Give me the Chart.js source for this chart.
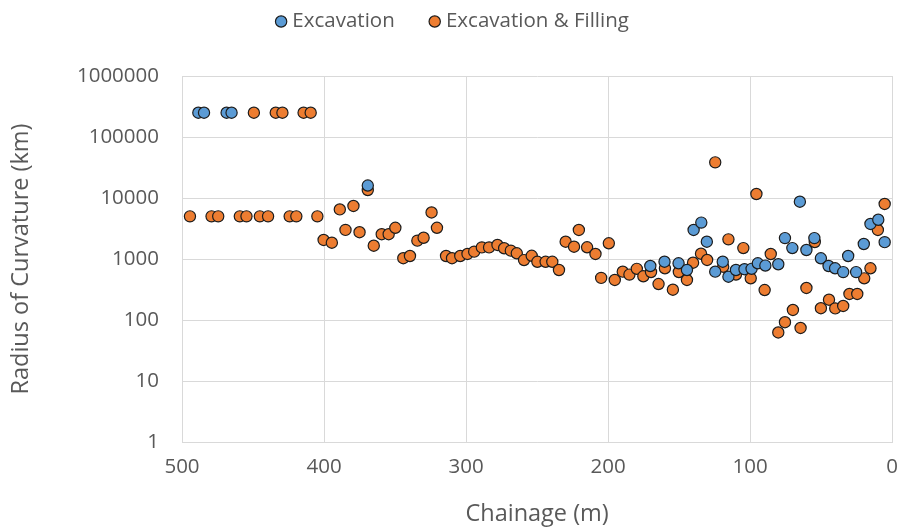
<!DOCTYPE html>
<html><head><meta charset="utf-8">
<script src="https://cdn.jsdelivr.net/npm/chart.js@4"></script>
<style>html,body{margin:0;padding:0;background:#fff;overflow:hidden}#wrap{width:899px;height:529px;position:relative}</style>
</head><body><div id="wrap"><canvas id="c" width="899" height="529"></canvas></div>
<script>
// ---- data ----
const seriesNames = ['Excavation', 'Excavation & Filling'];

const excavationChainage = [488.5, 484.5, 468.6, 465.1, 369.2,
  170.3, 160.3, 150.4, 144.5, 139.8, 134.4, 130.5, 124.6, 119.3, 115.3, 110, 104, 99, 94.6, 89.3,
  80.2, 75.5, 70.3, 65, 60.4, 54.8, 50.2, 44.8, 40.2, 34.5, 31, 25.4, 20, 15.3, 9.8, 5.3];
const excavationRadius = [250000, 250000, 250000, 250000, 16000,
  768, 903, 851, 660, 2990, 3950, 1923, 620, 903, 513, 660, 680, 690, 851, 780,
  820, 2200, 1510, 8690, 1405, 2200, 1026, 768, 705, 610, 1120, 610, 1762, 3750, 4400, 1890];

const fillingChainage = [449.4, 434, 429.3, 414.4, 409.4,
  494.4, 479.2, 474.5, 459.3, 454.6, 445.2, 439.4, 424.2, 419.5, 404.7,
  400.3, 394.5, 388.9, 384.9, 379.3, 375, 369.2, 365, 359.4, 354.5, 349.8, 344.2, 339.5, 334.3, 329.9,
  324.3, 320.5, 314.1, 309.9, 304.1, 299, 294.3, 288.9, 283.8, 277.9, 273.2, 268.5, 264.3, 259.2,
  253.8, 249.8, 244, 239.3, 234.6, 229.9, 224, 220.6, 214.8, 208.9, 204.9, 199.5, 195.3, 189.7,
  185, 179.8, 175.2, 169.8, 164.5, 160, 154.4, 150.2, 144.5, 140.2, 134.6, 130.3, 124.6, 119, 115.3,
  110, 104.8, 99.6, 95.6, 89.8, 85.5, 80.2, 75.5, 69.9, 64.5, 60.4, 54.5, 50.2, 44.5, 40.1, 34.5,
  30.1, 24.6, 19.7, 15.3, 10.1, 5.3];
const fillingRadius = [250000, 250000, 250000, 250000, 250000,
  5000, 5000, 5000, 5000, 5000, 5000, 5000, 5000, 5000, 5000,
  2050, 1850, 6500, 3000, 7400, 2750, 13500, 1650, 2550, 2550, 3250, 1030, 1120, 2000, 2230,
  5800, 3250, 1120, 1030, 1120, 1210, 1320, 1550, 1550, 1700, 1500, 1370, 1240, 960,
  1130, 900, 900, 900, 660, 1920, 1590, 2990, 1555, 1210, 490, 1810, 453, 620,
  555, 690, 520, 612, 389, 705, 314, 612, 453, 870, 1220, 965, 38400, 748, 2100,
  556, 1510, 482, 11630, 310, 1208, 62.5, 92, 146, 74, 335, 1900, 156, 215, 155, 170,
  267, 267, 482, 705, 2990, 7980];

const xTickValues = [500, 400, 300, 200, 100, 0];
const yTickValues = [1, 10, 100, 1000, 10000, 100000, 1000000];

// ---- chart ----
const FONT = "'Open Sans', 'DejaVu Sans', sans-serif";
const TXT = '#595959';
const GRID = '#d9d9d9';
const LEG_PAD = 39;

function pts(xs, ys) { return xs.map((x, i) => ({x: x, y: ys[i]})); }

const legendFix = {
  id: 'legendFix',
  beforeLayout(chart) {
    const lg = chart.legend;
    if (lg && !lg.__fixed) {
      const orig = lg.fit;
      lg.fit = function () { orig.call(this); this.height = 76; };
      lg.__fixed = true;
    }
  },
  afterLayout(chart) {
    const lg = chart.legend;
    if (!lg) return;
    const dy = -(LEG_PAD + 10.25 - 21.5);
    lg.top += dy; lg.bottom += dy;
    lg.left += 5; lg.right += 5;
  }
};

new Chart(document.getElementById('c'), {
  type: 'scatter',
  data: {
    datasets: [
      {
        label: seriesNames[0],
        data: pts(excavationChainage, excavationRadius),
        backgroundColor: '#5b9bd5',
        borderColor: '#1c1c1c',
        borderWidth: 1.2,
        pointRadius: 5.6,
        pointHoverRadius: 5.6,
        pointStyle: 'circle'
      },
      {
        label: seriesNames[1],
        data: pts(fillingChainage, fillingRadius),
        backgroundColor: '#ed7d31',
        borderColor: '#1c1c1c',
        borderWidth: 1.2,
        pointRadius: 5.6,
        pointHoverRadius: 5.6,
        pointStyle: 'circle'
      }
    ]
  },
  options: {
    responsive: false,
    animation: false,
    devicePixelRatio: 1,
    layout: {padding: {left: 0, right: 0, top: 0, bottom: 0}},
    plugins: {
      tooltip: {enabled: false},
      legend: {
        position: 'top',
        labels: {
          usePointStyle: true,
          boxWidth: 2,
          boxHeight: 8,
          padding: LEG_PAD,
          color: TXT,
          font: {family: FONT, size: 20.5}
        }
      }
    },
    scales: {
      x: {
        type: 'linear',
        reverse: true,
        min: 0,
        max: 500,
        afterBuildTicks(axis) { axis.ticks = xTickValues.map(v => ({value: v})); },
        afterFit(axis) { axis.height = 87; axis.paddingRight = 5; axis.paddingLeft = 0; },
        ticks: {
          color: TXT,
          padding: 12.5,
          font: {family: FONT, size: 20.5},
          callback: v => String(v)
        },
        grid: {color: GRID, lineWidth: 1, drawTicks: false},
        border: {color: GRID, width: 1},
        title: {
          display: true,
          text: 'Chainage (m)',
          color: TXT,
          font: {family: FONT, size: 23.5},
          padding: {top: 0, bottom: 1}
        }
      },
      y: {
        type: 'logarithmic',
        min: 1,
        max: 1000000,
        afterBuildTicks(axis) { axis.ticks = yTickValues.map(v => ({value: v})); },
        afterFit(axis) { axis.width = 182; },
        ticks: {
          color: TXT,
          padding: 23,
          font: {family: FONT, size: 20.5},
          callback: v => String(v)
        },
        grid: {color: GRID, lineWidth: 1, drawTicks: false},
        border: {color: GRID, width: 1},
        title: {
          display: true,
          text: 'Radius of Curvature (km)',
          color: TXT,
          font: {family: FONT, size: 23.5},
          padding: {top: 7, bottom: 0}
        }
      }
    }
  },
  plugins: [legendFix]
});
</script>
</body></html>
